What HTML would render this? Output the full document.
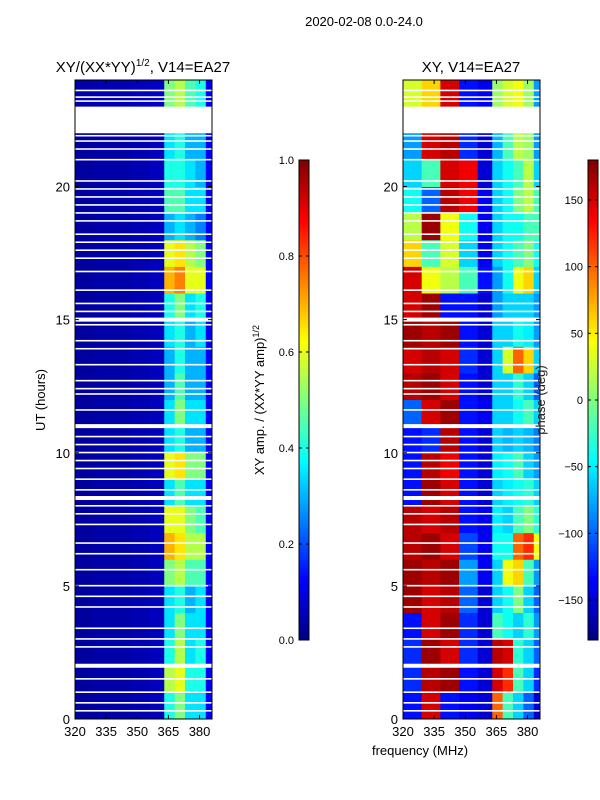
<!DOCTYPE html>
<html><head><meta charset="utf-8">
<style>
body{margin:0;background:#fff;}
svg{display:block;font-family:"Liberation Sans","DejaVu Sans",sans-serif;}
</style></head>
<body>
<svg id="fig" width="600" height="800" viewBox="0 0 600 800">
<text x="364" y="26" font-size="13" text-anchor="middle">2020-02-08 0.0-24.0</text>
<text x="143" y="72" font-size="15" text-anchor="middle">XY/(XX*YY)<tspan font-size="10" dy="-6">1/2</tspan><tspan dy="6">, V14=EA27</tspan></text>
<text x="471" y="72" font-size="15" text-anchor="middle">XY, V14=EA27</text>
<text transform="translate(45,400) rotate(-90)" font-size="13" text-anchor="middle">UT (hours)</text>
<text transform="translate(264,400) rotate(-90)" font-size="13" text-anchor="middle">XY amp. / (XX*YY amp)<tspan font-size="9" dy="-5">1/2</tspan></text>
<text x="420" y="755" font-size="13" text-anchor="middle">frequency (MHz)</text>
<g id="g1"></g><g id="g2"></g><g id="cb"></g>
<text transform="translate(545,400) rotate(-90)" font-size="13" text-anchor="middle" fill="#222">phase (deg)</text>
</svg>
<script>
const freqEdges=[320,329,338,347,356,363,368,373,378,383,386];
const hours=[0,1,2,3,4,5,6,7,8,9,10,11,12,13,14,15,16,17,18,19,20,21,22,23];
const ampRows=[
[0.03,0.04,0.04,0.05,0.06,0.40,0.50,0.35,0.35,0.12],
[0.03,0.04,0.04,0.05,0.06,0.55,0.60,0.40,0.40,0.12],
[0.03,0.04,0.04,0.05,0.06,0.40,0.55,0.35,0.40,0.12],
[0.03,0.04,0.04,0.05,0.06,0.35,0.50,0.35,0.35,0.12],
[0.03,0.04,0.04,0.05,0.06,0.35,0.40,0.30,0.35,0.12],
[0.03,0.04,0.04,0.05,0.06,0.50,0.55,0.45,0.45,0.12],
[0.03,0.04,0.04,0.05,0.06,0.70,0.65,0.55,0.55,0.12],
[0.03,0.04,0.04,0.05,0.06,0.60,0.60,0.50,0.45,0.12],
[0.03,0.04,0.04,0.05,0.06,0.35,0.45,0.35,0.35,0.12],
[0.03,0.04,0.04,0.05,0.06,0.60,0.65,0.50,0.50,0.12],
[0.03,0.04,0.04,0.05,0.06,0.35,0.40,0.30,0.30,0.12],
[0.03,0.04,0.04,0.05,0.06,0.35,0.50,0.35,0.35,0.12],
[0.03,0.04,0.04,0.05,0.06,0.30,0.45,0.30,0.30,0.12],
[0.03,0.04,0.04,0.05,0.06,0.30,0.40,0.30,0.30,0.12],
[0.03,0.04,0.04,0.05,0.06,0.35,0.40,0.30,0.35,0.12],
[0.03,0.04,0.04,0.05,0.06,0.40,0.50,0.35,0.40,0.12],
[0.03,0.04,0.04,0.05,0.06,0.70,0.75,0.60,0.60,0.12],
[0.03,0.04,0.04,0.05,0.06,0.60,0.65,0.55,0.50,0.12],
[0.03,0.04,0.04,0.05,0.06,0.30,0.35,0.30,0.25,0.12],
[0.03,0.04,0.04,0.05,0.06,0.45,0.45,0.35,0.35,0.12],
[0.03,0.04,0.04,0.05,0.06,0.40,0.40,0.35,0.30,0.12],
[0.03,0.04,0.04,0.05,0.06,0.35,0.40,0.30,0.30,0.12],
[null,null,null,null,null,null,null,null,null,null],
[0.04,0.05,0.05,0.06,0.07,0.50,0.55,0.45,0.40,0.12]];
const phaseRows=[
[-130,150,-130,-140,-150,100,-20,-60,-100,-150],
[-120,160,170,-130,-150,150,120,-20,-60,-120],
[-120,170,150,-120,-150,160,150,-30,-60,-100],
[-130,150,170,-120,-150,-20,-40,-60,-30,-80],
[170,150,160,-100,-150,-60,-40,0,-60,-100],
[170,160,170,-80,-140,-60,40,60,-20,-80],
[160,170,150,-110,-140,-40,-40,100,120,40],
[160,150,160,-130,-140,-50,-60,-20,0,-30],
[-130,170,150,-130,-150,-60,-50,-40,-30,-60],
[-130,160,140,-130,-150,-50,-40,-20,-60,-80],
[-130,-120,160,-130,-150,-60,-70,-60,-70,-90],
[-100,150,170,-130,-140,-60,-60,-40,-20,-60],
[160,170,150,-130,-150,-60,-60,-30,-60,-100],
[150,160,150,-120,-150,-60,30,100,60,-60],
[170,160,170,-130,-150,-60,-60,-40,-50,-80],
[150,170,-130,-130,-150,-80,-60,-60,-60,-80],
[150,40,20,-20,-130,-80,-40,40,60,-60],
[60,-20,30,-60,-140,-60,-40,-20,0,-40],
[20,170,40,-40,-140,-60,-40,-40,-20,-20],
[-40,-100,160,140,-140,-60,-40,0,20,-20],
[-60,-20,150,140,-150,-60,-40,-20,20,-60],
[-80,150,160,-120,-150,-70,-20,20,10,-80],
[null,null,null,null,null,null,null,null,null,null],
[30,60,150,-130,-140,10,30,40,10,-80]];
const flaggedHours=[23.6,23.35,23.2,21.9,21.7,21.4,21.0,20.2,19.9,19.6,19.3,19.0,18.7,18.2,17.9,17.6,17.3,16.8,16.1,15.6,15.3,14.8,14.2,13.9,13.3,12.7,12.4,12.2,11.6,10.6,10.3,10.0,9.7,9.4,9.0,8.6,8.0,7.7,7.3,6.6,6.2,5.6,5.0,4.6,4.2,3.4,3.0,2.7,1.5,1.0,0.6,0.3];
const thickFlagHours=[15.0,11.0,8.3,2.0];
const xTicks=[320,335,350,365,380];
const yTicks=[0,5,10,15,20];
const ampTicks=[0.0,0.2,0.4,0.6,0.8,1.0];
const phaseTicks=[-150,-100,-50,0,50,100,150];

const NS="http://www.w3.org/2000/svg";
function jet(v){v=Math.max(0,Math.min(1,v));
 const c=(a)=>Math.max(0,Math.min(1,a));
 const r=c(1.5-Math.abs(4*v-3)), g=c(1.5-Math.abs(4*v-2)), b=c(1.5-Math.abs(4*v-1));
 return `rgb(${Math.round(r*255)},${Math.round(g*255)},${Math.round(b*255)})`;}
function el(parent,tag,attrs){const e=document.createElementNS(NS,tag);for(const k in attrs)e.setAttribute(k,attrs[k]);parent.appendChild(e);return e;}
const Y0=719,Y1=80,FMIN=320,FMAX=386;
const yScale=h=>Y0-(h/24)*(Y0-Y1);
function panel(gid,x0,x1,rows,norm,name){
 const g=document.getElementById(gid);
 const xs=f=>x0+(f-FMIN)/(FMAX-FMIN)*(x1-x0);
 for(let i=0;i<hours.length;i++){
  const yTop=yScale(hours[i]+1),yBot=yScale(hours[i]);
  for(let j=0;j<freqEdges.length-1;j++){
   const v=rows[i][j]; if(v===null)continue;
   const r=el(g,'rect',{x:xs(freqEdges[j]),y:yTop,width:xs(freqEdges[j+1])-xs(freqEdges[j])+0.5,height:yBot-yTop+0.5,fill:jet(norm(v))});
   
   
  }
 }
 const gap=el(g,'rect',{x:x0,y:yScale(23),width:x1-x0,height:yScale(22.2)-yScale(23),fill:'#fff'});
 
 
 for(const h of flaggedHours){const l=el(g,'rect',{x:x0,y:yScale(h)-1,width:x1-x0,height:1.6,fill:'#fff'});
  
  }
 for(const h of thickFlagHours){const l=el(g,'rect',{x:x0,y:yScale(h)-2,width:x1-x0,height:4,fill:'#fff'});
  
  }
 const fr=el(g,'rect',{x:x0,y:Y1,width:x1-x0,height:Y0-Y1,fill:'none',stroke:'#000','stroke-width':1});
 
 
 for(const t of xTicks){const x=xs(t);
  el(g,'line',{x1:x,x2:x,y1:Y0,y2:Y0-4,stroke:'#000'});el(g,'line',{x1:x,x2:x,y1:Y1,y2:Y1+4,stroke:'#000'});
  const tx=el(g,'text',{x:x,y:Y0+17,'font-size':13,'text-anchor':'middle'});tx.textContent=t;
  
  }
 for(const t of yTicks){const y=yScale(t);
  el(g,'line',{x1:x0,x2:x0+4,y1:y,y2:y,stroke:'#000'});el(g,'line',{x1:x1,x2:x1-4,y1:y,y2:y,stroke:'#000'});
  const tx=el(g,'text',{x:x0-5,y:y+5,'font-size':13,'text-anchor':'end'});tx.textContent=t;
  
  }
}
panel('g1',75,212,ampRows,v=>v,'amp-heatmap');
panel('g2',403,540,phaseRows,v=>(v+180)/360,'phase-heatmap');

function colorbar(x,vmin,vmax,ticks,fmt,name){
 const g=document.getElementById('cb');const top=160,bot=640,w=10;
 for(let k=0;k<120;k++){const y=bot-(k+1)*(bot-top)/120;
  el(g,'rect',{x:x,y:y,width:w,height:(bot-top)/120+0.5,fill:jet((k+0.5)/120)});}
 const fr=el(g,'rect',{x:x,y:top,width:w,height:bot-top,fill:'none',stroke:'#000'});
 
 
 for(const t of ticks){const y=bot-(t-vmin)/(vmax-vmin)*(bot-top);
  el(g,'line',{x1:x,x2:x+3,y1:y,y2:y,stroke:'#000'});el(g,'line',{x1:x+w,x2:x+w-3,y1:y,y2:y,stroke:'#000'});
  const tx=el(g,'text',{x:x-5,y:y+4,'font-size':11,'text-anchor':'end'});tx.textContent=fmt(t);
  
  }
}
colorbar(299,0,1,ampTicks,t=>t.toFixed(1),'amp-colorbar');
colorbar(588,-180,180,phaseTicks,t=>t<0?'\u2212'+(-t):''+t,'phase-colorbar');
</script>
</body></html>
